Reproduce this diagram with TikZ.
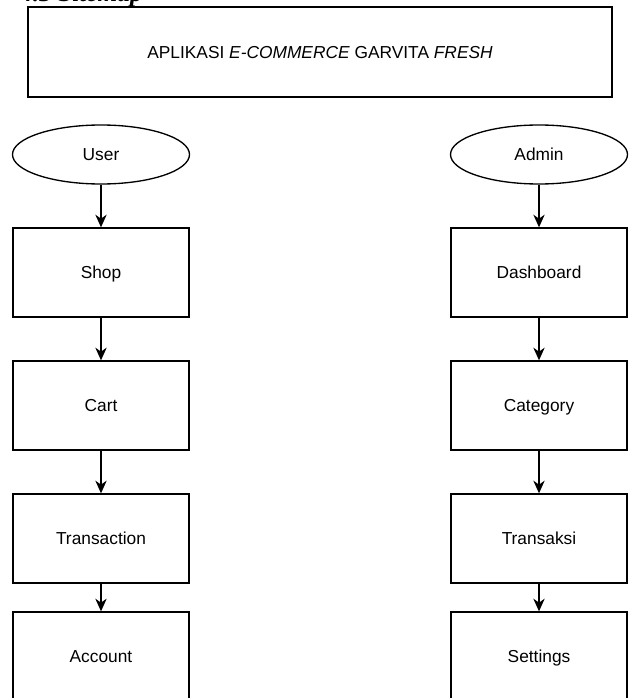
\documentclass[tikz,border=0pt]{standalone}
\usepackage{fontspec}
\setmainfont{Liberation Sans}
\newfontfamily\headserif{Liberation Serif}
\usetikzlibrary{arrows.meta,shapes.geometric}
\begin{document}
\begin{tikzpicture}[x=0.75pt,y=-0.75pt,
  nodefont/.style={font=\fontsize{13}{15}\selectfont, text height=11.7pt, text depth=2.4pt},
  pagebox/.style={draw, line width=1pt, minimum width=132pt, minimum height=66.75pt, inner sep=0pt, nodefont},
  role/.style={draw, ellipse, line width=1pt, minimum width=132.75pt, minimum height=44.25pt, inner sep=0pt, nodefont},
  link/.style={line width=1pt, -{Stealth[length=9.5pt,width=8.5pt,inset=3pt]}}]
\useasboundingbox (0,0) rectangle (635,698);
\node[anchor=base west, inner sep=0pt, font=\headserif\bfseries\itshape\fontsize{19}{22}\selectfont] (hdr) at (20,2) {4.3 Sitemap};
\node[draw, line width=1pt, minimum width=438pt, minimum height=67.5pt, inner sep=0pt, nodefont] (app) at (320,52) {APLIKASI \textit{E-COMMERCE} GARVITA \textit{FRESH}};
% user column
\node[role] (user) at (101,154.5) {User};
\node[pagebox] (shop) at (101,272.5) {Shop};
\node[pagebox] (cart) at (101,405.5) {Cart};
\node[pagebox] (trans) at (101,538.5) {Transaction};
\node[pagebox] (acct) at (101,656.5) {Account};
% admin column
\node[role] (admin) at (539,154.5) {Admin};
\node[pagebox] (dash) at (539,272.5) {Dashboard};
\node[pagebox] (cat) at (539,405.5) {Category};
\node[pagebox] (transk) at (539,538.5) {Transaksi};
\node[pagebox] (sett) at (539,656.5) {Settings};
\draw[link] (user) -- (shop);
\draw[link] (shop) -- (cart);
\draw[link] (cart) -- (trans);
\draw[link] (trans) -- (acct);
\draw[link] (admin) -- (dash);
\draw[link] (dash) -- (cat);
\draw[link] (cat) -- (transk);
\draw[link] (transk) -- (sett);
\end{tikzpicture}
\end{document}
